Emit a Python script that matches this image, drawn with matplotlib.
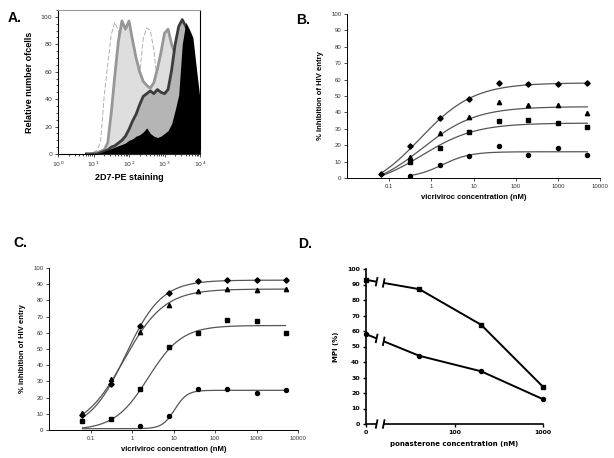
import numpy as np
import matplotlib.pyplot as plt
from matplotlib.ticker import FixedLocator, NullLocator, MultipleLocator, LogLocator, NullFormatter

nan = np.nan

# --- panel A: flow cytometry histograms (log10 of 2D7-PE fluorescence) ---
log_fl = [0.8, 0.9, 1.0, 1.1, 1.2, 1.3, 1.4, 1.5, 1.6, 1.7, 1.8, 1.9, 2.0, 2.1, 2.2, 2.3, 2.4,
          2.5, 2.6, 2.7, 2.8, 2.9, 3.0, 3.1, 3.2, 3.3, 3.4, 3.5, 3.6, 3.7, 3.8, 3.9, 4.0]
hist_isotype = [0, 0.5, 1, 3, 9, 42, 65, 87, 96, 90, 72, 55, 45, 40, 45, 58, 84,
                92, 90, 76, 52, 35, 20, 10, 5, 2, 0, 0, 0, 0, 0, 0, 0]
hist_low = [0, 0, 0.5, 1, 2, 3, 8, 30, 57, 82, 97, 91, 97, 83, 70, 60, 53,
            50, 48, 52, 62, 74, 88, 91, 80, 73, 50, 25, 10, 3, 1, 0, 0]
hist_mid = [0, 0, 0, 0, 1, 2, 3, 5, 6, 8, 10, 13, 18, 24, 29, 36, 42,
            44, 46, 44, 47, 45, 44, 47, 61, 80, 93, 98, 93, 87, 60, 30, 0]
hist_high = [0, 0, 0, 0.5, 1, 2, 3, 4, 5, 6, 7, 8, 10, 11, 13, 14, 16,
             19, 15, 13, 12, 13, 15, 17, 22, 32, 43, 80, 96, 91, 85, 62, 40]

# --- panels B and C: vicriviroc dose response ---
conc = [0.064, 0.32, 1.6, 8, 40, 200, 1000, 5000]
b_diamond = [2.6, 19.3, 36.5, 48, 58.2, 57.2, 57.2, 57.8]
b_triangle = [nan, 12.8, 27.4, 37.1, 46.2, 44.8, 44.4, 39.4]
b_square = [nan, 9.7, 18.3, 28, 34.5, 35.5, 33.5, 31.4]
b_circle = [nan, 1.4, 7.7, 13.6, 19.3, 14.2, 18.3, 14]
# fitted curves: bottom, top, ec50, hill slope, first concentration
b_fits = [(-10, 58, 0.54, 0.68, 0.064), (-7.5, 43.5, 0.6, 0.68, 0.064),
          (-5.8, 33.5, 0.6, 0.68, 0.064), (0, 16, 1.8, 1.3, 0.32)]

c_diamond = [9.5, 28.5, 64.5, 84.5, 91.7, 92.8, 92.4, 92.8]
c_triangle = [10.5, 31.5, 60.2, 77.3, 85.8, 87, 86.2, 87]
c_square = [5.5, 6.6, 25.6, 51.1, 59.8, 68, 67, 59.8]
c_circle = [nan, nan, 2.7, 8.7, 25.2, 25.2, 22.7, 24.7]
c_fits = [(0, 92.5, 0.7, 1.0, 0.064), (0, 87, 0.65, 0.9, 0.064),
          (0, 64.5, 2.46, 1.07, 0.064), (0.8, 24.5, 10.7, 2.9, 0.064)]

conc_ticks = [0.1, 1, 10, 100, 1000, 10000]
conc_labels = ['0.1', '1', '10', '100', '1000', '10000']

# --- panel D: MPI vs ponasterone ---
pon_conc = [0, 40, 200, 1000]
d_square = [93, 87, 64, 24]
d_circle = [58, 44, 34, 16]

ARIAL = 'Liberation Sans'


def hill(x, bottom, top, ec50, n):
    return bottom + (top - bottom) / (1 + (ec50 / x) ** n)


fig = plt.figure(figsize=(6.14, 4.58), dpi=100)
W, H = 614, 458


def box(l, t, r, b):
    return [l / W, 1 - b / H, (r - l) / W, (b - t) / H]


# ---------------- A ----------------
axA = fig.add_axes(box(58, 10, 200, 154))
x = 10 ** np.array(log_fl)
axA.plot(x, hist_isotype, color='#b0b0b0', lw=0.7, ls=(0, (5, 2)), zorder=1)
axA.fill_between(x, hist_low, color='#dedede', lw=0, zorder=2)
axA.plot(x, hist_low, color='#979797', lw=2.0, zorder=2.1)
axA.fill_between(x, hist_mid, color='#b5b5b5', lw=0, zorder=3)
axA.plot(x, hist_mid, color='#3c3c3c', lw=2.0, zorder=3.1)
axA.fill_between(x, hist_high, color='black', lw=0, zorder=4)
axA.set_xscale('log')
axA.set_xlim(1, 10 ** 4)
axA.set_ylim(0, 105)
axA.yaxis.set_major_locator(FixedLocator([0, 20, 40, 60, 80, 100]))
axA.yaxis.set_minor_locator(MultipleLocator(5))
axA.xaxis.set_major_locator(LogLocator(base=10, numticks=10))
axA.xaxis.set_minor_locator(LogLocator(base=10, subs=np.arange(2, 10), numticks=10))
axA.xaxis.set_minor_formatter(NullFormatter())
axA.tick_params(labelsize=4.5, length=2, width=0.6, colors='#333333', pad=2)
axA.tick_params(which='minor', length=1.2, width=0.5)
for s in axA.spines.values():
    s.set_linewidth(0.8)
axA.spines['top'].set_color('#9a9a9a')
axA.set_xlabel('2D7-PE staining', fontsize=6.5, fontweight='bold', family=ARIAL, labelpad=3)
axA.set_ylabel('Relative number ofcells', fontsize=6.5, fontweight='bold', family=ARIAL, labelpad=5)


# ---------------- B and C ----------------
def dose_panel(ax, series, fits):
    markers = ['D', '^', 's', 'o']
    sizes = [2.7, 3.1, 2.8, 2.9]
    for vals, fit, m, ms in zip(series, fits, markers, sizes):
        bottom, top, ec50, n, x0 = fit
        xs = np.logspace(np.log10(x0), np.log10(conc[-1]), 200)
        ax.plot(xs, hill(xs, bottom, top, ec50, n), color='#555555', lw=0.9, zorder=2)
        ax.plot(conc, vals, ls='none', marker=m, ms=ms, color='black', zorder=3)
    ax.set_xscale('log')
    ax.set_xlim(0.01, 10000)
    ax.set_ylim(0, 100)
    ax.xaxis.set_major_locator(FixedLocator(conc_ticks))
    ax.xaxis.set_minor_locator(NullLocator())
    ax.set_xticklabels(conc_labels)
    ax.yaxis.set_major_locator(MultipleLocator(10))
    ax.spines['top'].set_visible(False)
    ax.spines['right'].set_visible(False)
    for s in ax.spines.values():
        s.set_linewidth(0.7)
    ax.tick_params(labelsize=4.3, length=2, width=0.6, pad=2, colors='#333333')
    for lab in ax.get_xticklabels() + ax.get_yticklabels():
        lab.set_family(ARIAL)
    ax.set_xlabel('vicriviroc concentration (nM)', fontsize=5.5, fontweight='bold',
                  family=ARIAL, labelpad=4)
    ax.set_ylabel('% inhibition of HIV entry', fontsize=5.5, fontweight='bold',
                  family=ARIAL, labelpad=5)


axB = fig.add_axes(box(347, 14, 600, 178))
dose_panel(axB, [b_diamond, b_triangle, b_square, b_circle], b_fits)
axC = fig.add_axes(box(49, 268, 298, 430))
dose_panel(axC, [c_diamond, c_triangle, c_square, c_circle], c_fits)

# ---------------- D ----------------
axD = fig.add_axes(box(366, 269, 543, 424))
xd = [c if c > 0 else 10 for c in pon_conc]  # zero sits at the broken axis origin
axD.plot(xd, d_square, color='black', lw=1.4, marker='s', ms=3.0, clip_on=False, zorder=3)
axD.plot(xd, d_circle, color='black', lw=1.4, marker='o', ms=2.9, clip_on=False, zorder=3)
axD.set_xscale('log')
axD.set_xlim(10, 1000)
axD.set_ylim(0, 100)
axD.xaxis.set_major_locator(FixedLocator([10, 100, 1000]))
axD.xaxis.set_minor_locator(NullLocator())
axD.set_xticklabels(['0', '100', '1000'])
axD.yaxis.set_major_locator(MultipleLocator(10))
axD.spines['top'].set_visible(False)
axD.spines['right'].set_visible(False)
for s in axD.spines.values():
    s.set_linewidth(1.2)
axD.tick_params(labelsize=4.5, length=2.5, width=1.0, pad=2)
for lab in axD.get_xticklabels() + axD.get_yticklabels():
    lab.set_fontweight('bold')
axD.set_xlabel('ponasterone concentration (nM)', fontsize=5, fontweight='bold', labelpad=4)
axD.set_ylabel('MPI (%)', fontsize=5, fontweight='bold', labelpad=6)

# axis break "//" between 0 and the first concentration
gap = (10 ** 1.12, 10 ** 1.2)
axD.axvspan(gap[0], gap[1], ymin=-0.03, ymax=1, color='white', zorder=4, clip_on=False, lw=0)
lx = np.log10(xd)
for yv in [d_square, d_circle, [0, 0, 0, 0]]:
    for g in gap:
        yb = np.interp(np.log10(g), lx, yv)
        axD.plot([g / 1.025, g * 1.025], [yb - 3, yb + 3], color='black', lw=1.3,
                 clip_on=False, zorder=5, solid_capstyle='butt')

# panel letters
for lab, px, py in [('A.', 8, 22), ('B.', 296, 24), ('C.', 13, 247), ('D.', 298, 248)]:
    fig.text(px / W, 1 - py / H, lab, fontsize=10, fontweight='bold', family=ARIAL)

fig.savefig('out.png', dpi=100)
